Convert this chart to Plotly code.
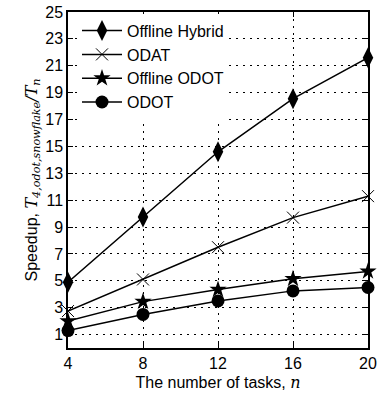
import plotly.graph_objects as go

# Number of tasks
n_tasks = [4, 8, 12, 16, 20]

# Speedup relative to T_{4,odot,snowflake}
offline_hybrid = [4.9, 9.75, 14.6, 18.55, 21.6]
odat = [2.75, 5.1, 7.5, 9.7, 11.3]
offline_odot = [2.0, 3.45, 4.35, 5.15, 5.7]
odot = [1.3, 2.5, 3.5, 4.25, 4.5]

y_ticks = [1, 3, 5, 7, 9, 11, 13, 15, 17, 19, 21, 23, 25]
x_ticks = [4, 8, 12, 16, 20]

series = [
    ("Offline Hybrid", offline_hybrid, dict(symbol="diamond-tall", size=15)),
    ("ODAT", odat, dict(symbol="x-thin-open", size=12, line=dict(width=1, color="black"))),
    ("Offline ODOT", offline_odot, dict(symbol="star", size=13)),
    ("ODOT", odot, dict(symbol="circle", size=13)),
]

fig = go.Figure()
for name, vals, mk in series:
    fig.add_trace(go.Scatter(
        x=n_tasks, y=vals, name=name, mode="lines+markers",
        line=dict(color="black", width=1.5),
        marker=dict(color="black", **mk),
        cliponaxis=False,
    ))

font_main = "Liberation Sans, Arial, sans-serif"
serif = "DejaVu Serif, Liberation Serif, serif"

axis_common = dict(
    showline=True, linecolor="black", linewidth=1.5, mirror="ticks",
    ticks="inside", ticklen=5, tickcolor="black",
    showgrid=True, gridcolor="black", gridwidth=1, griddash="1.5px,5.5px",
    zeroline=False, tickfont=dict(size=16, color="black", family=font_main),
    ticklabeloverflow="allow",
)

fig.update_layout(
    width=381, height=401,
    margin=dict(l=68, r=4, t=9, b=53),
    paper_bgcolor="white", plot_bgcolor="white",
    font=dict(family=font_main, color="black", size=15),
    xaxis=dict(
        range=[4, 20], tickvals=x_ticks,
        title=dict(text=f"The number of tasks, <span style='font-family:{serif}'><i>n</i></span>",
                   font=dict(size=16), standoff=6),
        **axis_common,
    ),
    yaxis=dict(
        range=[0, 25], tickvals=y_ticks,
        title=dict(text=(f"Speedup, <span style='font-family:{serif}'><i>T</i>"
                         f"<sub><i>4,odot,snowflake</i></sub><i>/T<sub>n</sub></i></span>"),
                   font=dict(size=16), standoff=4),
        **axis_common,
    ),
    legend=dict(
        x=0.03, y=0.995, xanchor="left", yanchor="top",
        bgcolor="white", borderwidth=0,
        font=dict(size=16, family=font_main), tracegroupgap=0,
        itemwidth=40,
    ),
    showlegend=True,
)

fig.write_html("out.html")
